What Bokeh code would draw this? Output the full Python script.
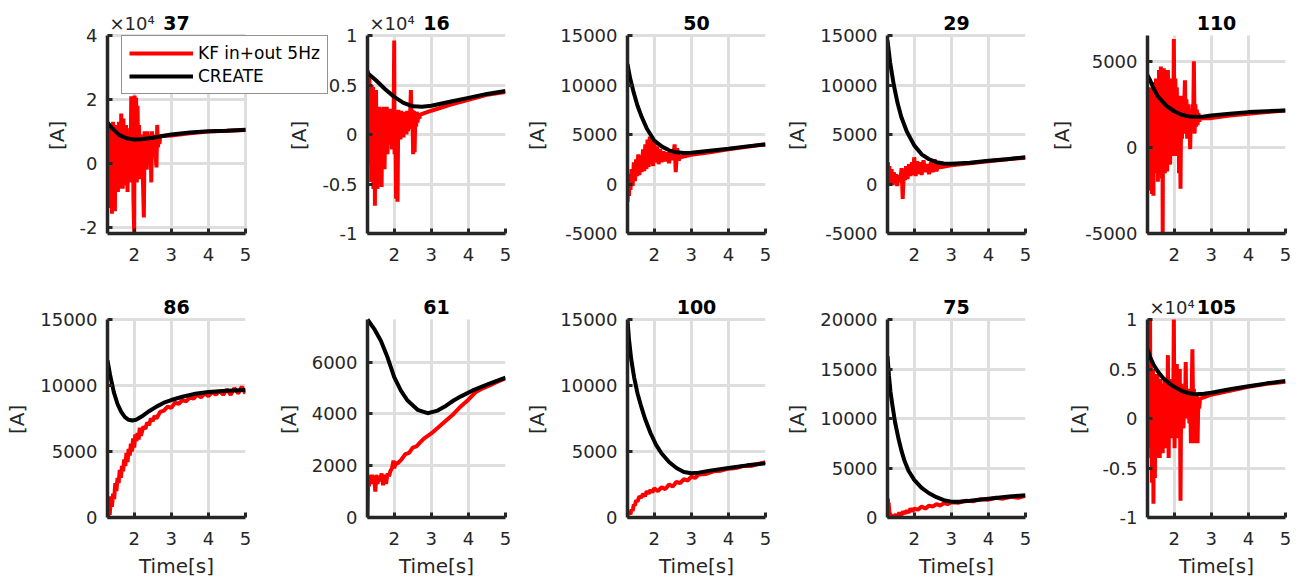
from bokeh.plotting import figure
from bokeh.layouts import row, column
from bokeh.models import Range1d, FixedTicker, Legend, LegendItem, Label
from bokeh.embed import file_html
from bokeh.resources import INLINE

# ---------------- data (time in s, current in A) ----------------
titles = ["37", "16", "50", "29", "110", "86", "61", "100", "75", "105"]
legend_labels = ["KF in+out 5Hz", "CREATE"]
x_ticks = [2, 3, 4, 5]
scale_text = "\u00d710\u2074"
y_label = "[A]"
x_label = "Time[s]"

# panel 37  (KF samples as (time, current) pairs)
t_create_37 = [1.28, 1.4, 1.6, 1.8, 2.0, 2.2, 2.5, 3.0, 3.5, 4.0, 4.5, 5.0]
i_create_37 = [12800, 11000, 8800, 7800, 7400, 7500, 8000, 9000, 9600, 10000, 10200, 10500]
kf_37 = [(1.28, 0), (1.29, 12900), (1.30, -8000), (1.31, 11000), (1.32, -13300), (1.33, 9000), (1.34, -5000),
         (1.35, 12000), (1.36, -14000), (1.37, 8000), (1.38, -3000), (1.39, 10000), (1.40, -15800), (1.41, 6000),
         (1.42, -9000), (1.43, 13000), (1.44, -12000), (1.45, 9000), (1.46, -2000), (1.47, 11000), (1.48, -15000),
         (1.49, 8000), (1.50, 0), (1.51, 10000), (1.52, -7000), (1.53, 12000), (1.54, 2000), (1.55, 9000),
         (1.56, -9000), (1.57, 11000), (1.58, -4000), (1.59, 13000), (1.60, -6000), (1.62, 9000), (1.63, -8000),
         (1.65, 15600), (1.66, -3000), (1.68, 12000), (1.69, -8000), (1.71, 14000), (1.72, 0), (1.74, 10000),
         (1.76, -7000), (1.78, 12000), (1.79, -1000), (1.80, 11000), (1.82, -9000), (1.84, 9000), (1.86, -4000),
         (1.88, 10000), (1.90, -6000), (1.92, 21000), (1.94, -3000), (1.96, 20000), (1.98, -12000), (2.00, -22000),
         (2.01, 21200), (2.03, 2000), (2.05, 20500), (2.07, -6000), (2.09, 18000), (2.11, 0), (2.13, 12000),
         (2.15, -5000), (2.17, 9000), (2.19, 2000), (2.21, 8000), (2.23, -3000), (2.26, -17000), (2.28, 10000),
         (2.30, 3000), (2.32, 9000), (2.34, -2000), (2.36, 10000), (2.38, 4000), (2.40, 9000), (2.42, 2000),
         (2.44, 8000), (2.46, -6000), (2.48, 10000), (2.50, 3000), (2.52, 9000), (2.54, 4000), (2.56, 8000),
         (2.58, 2000), (2.60, -1300), (2.62, 12000), (2.64, 5000), (2.66, 9000), (2.68, 6000), (2.70, 8500),
         (3.0, 8700), (3.5, 9400), (4.0, 9900), (4.5, 10200), (5.0, 10400)]
yticks_37 = [-20000, 0, 20000, 40000]
yticklabels_37 = ["-2", "0", "2", "4"]

# panel 16
t_create_16 = [1.28, 1.5, 1.75, 2.0, 2.25, 2.5, 2.75, 3.0, 3.5, 4.0, 4.5, 5.0]
i_create_16 = [6200, 5500, 4600, 3800, 3200, 2850, 2800, 2900, 3300, 3700, 4100, 4400]
kf_16 = [(1.28, -2000), (1.29, 6500), (1.30, -3000), (1.31, 5500), (1.32, 0), (1.33, 6000), (1.34, -1500),
         (1.35, 4500), (1.36, -2500), (1.37, 3000), (1.38, -4800), (1.39, 5000), (1.40, -1000), (1.41, 4000),
         (1.42, -3000), (1.43, 4800), (1.44, -5500), (1.45, 2500), (1.46, -1000), (1.47, 3500), (1.48, -7200),
         (1.49, 2000), (1.50, -2000), (1.51, 4500), (1.52, -500), (1.53, 2800), (1.55, -5500), (1.56, 2500),
         (1.58, -1000), (1.60, 2800), (1.62, -3000), (1.64, 2600), (1.66, -5300), (1.68, 2700), (1.70, -1500),
         (1.72, 2800), (1.74, -3500), (1.76, 2500), (1.78, 0), (1.80, 2800), (1.82, -2000), (1.84, 2500),
         (1.86, -1000), (1.88, 2600), (1.90, 0), (1.92, 2200), (1.94, -1500), (1.96, 2500), (1.98, -500),
         (2.00, 9500), (2.01, -2000), (2.03, 2500), (2.05, -6500), (2.07, 2000), (2.09, -6800), (2.11, 2500),
         (2.13, 0), (2.15, 2200), (2.17, -500), (2.19, 2400), (2.21, 200), (2.23, 2200), (2.25, -300),
         (2.27, 2300), (2.29, 500), (2.31, 2200), (2.33, 0), (2.35, 2400), (2.37, 300), (2.39, 2000),
         (2.41, 600), (2.43, 2200), (2.45, 4500), (2.47, 500), (2.49, 2500), (2.51, -2000), (2.53, 2400),
         (2.55, -1800), (2.57, 2200), (2.59, 800), (2.61, 2300), (2.63, 1200), (2.65, 2100), (2.68, 1600),
         (2.70, 2000), (3.0, 2400), (3.5, 3000), (4.0, 3500), (4.5, 4000), (5.0, 4300)]
yticks_16 = [-10000, -5000, 0, 5000, 10000]
yticklabels_16 = ["-1", "-0.5", "0", "0.5", "1"]

# panel 50
t_create_50 = [1.28, 1.35, 1.45, 1.55, 1.65, 1.8, 2.0, 2.2, 2.4, 2.6, 2.8, 3.0, 3.5, 4.0, 4.5, 5.0]
i_create_50 = [12100, 10700, 9200, 7900, 6900, 5600, 4400, 3800, 3400, 3200, 3120, 3150, 3350, 3550, 3800, 4000]
t_kf_50 = [1.28, 1.30, 1.32, 1.34, 1.36, 1.39, 1.42, 1.45, 1.48, 1.51, 1.54, 1.57, 1.60, 1.63, 1.66,
           1.70, 1.73, 1.76, 1.79, 1.82, 1.85, 1.88, 1.91, 1.94, 1.97, 2.00, 2.04, 2.08, 2.12, 2.16,
           2.20, 2.25, 2.30, 2.35, 2.40, 2.45, 2.50, 2.55, 2.58, 2.62, 2.66, 2.70, 3.0, 3.5, 4.0, 4.5, 5.0]
i_kf_50 = [-1800, 500, -1200, 1000, -600, 1500, -200, 2200, 300, 2500, 800, 3000, 900, 2900, 1200,
           3500, 1300, 4000, 1500, 4500, 1700, 4800, 2000, 4600, 1800, 4500, 2200, 3800, 2000, 3500,
           2200, 3300, 2300, 3200, 2100, 3400, 2400, 4000, 1200, 3600, 2400, 2700, 2950, 3200, 3500, 3750, 4000]
yticks_50 = [-5000, 0, 5000, 10000, 15000]
yticklabels_50 = ["-5000", "0", "5000", "10000", "15000"]

# panel 29
t_create_29 = [1.28, 1.35, 1.45, 1.55, 1.65, 1.8, 2.0, 2.2, 2.4, 2.6, 2.8, 3.0, 3.5, 4.0, 4.5, 5.0]
i_create_29 = [14500, 12300, 10000, 8200, 6800, 5300, 3900, 3000, 2500, 2200, 2080, 2050, 2150, 2350, 2500, 2700]
t_kf_29 = [1.28, 1.29, 1.31, 1.33, 1.36, 1.39, 1.42, 1.45, 1.48, 1.51, 1.54, 1.58, 1.62, 1.66, 1.69,
           1.72, 1.75, 1.78, 1.82, 1.86, 1.90, 1.94, 1.97, 2.00, 2.04, 2.08, 2.12, 2.16, 2.20, 2.25,
           2.30, 2.35, 2.40, 2.45, 2.50, 2.55, 2.60, 2.65, 2.70, 3.0, 3.5, 4.0, 4.5, 5.0]
i_kf_29 = [0, 2200, 300, 1800, 0, 1500, -100, 1200, 200, 1000, -200, 900, 200, 1600, -1500,
           1200, 400, 1800, 500, 2000, 800, 2200, 900, 2700, 800, 2300, 1000, 2200, 900, 2400,
           1200, 2000, 1000, 2200, 1200, 2500, 1300, 2000, 1700, 1900, 2100, 2300, 2500, 2650]
yticks_29 = [-5000, 0, 5000, 10000, 15000]
yticklabels_29 = ["-5000", "0", "5000", "10000", "15000"]

# panel 110
t_create_110 = [1.28, 1.35, 1.45, 1.55, 1.65, 1.8, 2.0, 2.2, 2.4, 2.6, 2.8, 3.0, 3.5, 4.0, 4.5, 5.0]
i_create_110 = [4200, 3900, 3400, 3000, 2750, 2400, 2100, 1900, 1800, 1780, 1800, 1850, 1950, 2050, 2100, 2150]
kf_110 = [(1.28, -1500), (1.29, 3000), (1.30, -1000), (1.31, 2500), (1.32, -2000), (1.33, 2800), (1.34, -500),
          (1.35, 2000), (1.36, -2500), (1.37, 3500), (1.38, -1000), (1.39, 2500), (1.40, -2700), (1.41, 3000),
          (1.42, -2000), (1.43, 3800), (1.44, -2800), (1.45, 2500), (1.46, -1000), (1.47, 3500), (1.48, -1500),
          (1.49, 3000), (1.50, -500), (1.51, 4000), (1.52, -1500), (1.53, 3500), (1.54, -1000), (1.55, 4000),
          (1.56, -2000), (1.57, 3000), (1.58, -500), (1.59, 4500), (1.60, -1000), (1.62, 4500), (1.63, -1500),
          (1.64, 4700), (1.65, 0), (1.66, 4500), (1.67, -1800), (1.68, 3500), (1.69, -5000), (1.70, 3000),
          (1.71, -1000), (1.72, 4600), (1.73, 500), (1.74, 4500), (1.75, -1500), (1.77, 4300), (1.78, 0),
          (1.80, 4000), (1.81, -1400), (1.83, 4500), (1.85, 0), (1.87, 3500), (1.89, -1000), (1.91, 4000),
          (1.93, 500), (1.95, 3500), (1.97, -500), (1.99, 6300), (2.01, 0), (2.03, 4000), (2.05, -500),
          (2.07, 3500), (2.09, 0), (2.11, 3000), (2.13, -1500), (2.15, 2500), (2.17, -2400), (2.19, 3000),
          (2.21, 500), (2.23, 2500), (2.25, 800), (2.27, 2500), (2.29, 3900), (2.31, 1000), (2.33, 2800),
          (2.35, 500), (2.37, 2500), (2.39, 1200), (2.41, 2200), (2.43, -100), (2.45, 2000), (2.47, 1000),
          (2.49, 2500), (2.51, 1200), (2.53, 5000), (2.55, 800), (2.57, 2500), (2.59, 1200), (2.61, 2200),
          (2.63, 1300), (2.65, 2000), (2.68, 1500), (2.70, 1700), (3.0, 1700), (3.5, 1850), (4.0, 1950),
          (4.5, 2050), (5.0, 2150)]
yticks_110 = [-5000, 0, 5000]
yticklabels_110 = ["-5000", "0", "5000"]

# panel 86
t_create_86 = [1.28, 1.35, 1.45, 1.55, 1.65, 1.75, 1.85, 1.95, 2.05, 2.2, 2.4, 2.6, 2.8, 3.0, 3.3, 3.6, 4.0, 4.5, 5.0]
i_create_86 = [11900, 10800, 9500, 8600, 8000, 7600, 7400, 7350, 7400, 7650, 8050, 8400, 8700, 8900, 9150, 9350, 9500, 9600, 9650]
t_kf_86 = [1.28, 1.30, 1.32, 1.34, 1.37, 1.40, 1.43, 1.46, 1.49, 1.52, 1.55, 1.58, 1.61, 1.64, 1.67,
           1.70, 1.73, 1.76, 1.79, 1.82, 1.85, 1.88, 1.91, 1.94, 1.97, 2.00, 2.03, 2.06, 2.09, 2.12,
           2.15, 2.18, 2.21, 2.25, 2.30, 2.35, 2.40, 2.45, 2.50, 2.55, 2.60, 2.70, 2.80, 2.90, 3.0,
           3.1, 3.2, 3.3, 3.4, 3.5, 3.6, 3.7, 3.8, 3.9, 4.0, 4.1, 4.2, 4.3, 4.4, 4.5, 4.6, 4.7, 4.8, 4.9, 5.0]
i_kf_86 = [1500, 0, 1200, 200, 1600, 800, 1800, 1400, 2600, 2000, 3000, 2600, 3600, 3000, 3900,
           3500, 4400, 3900, 4900, 4200, 5200, 4700, 5600, 5000, 6000, 5300, 6300, 5800, 6400, 5900,
           6800, 6200, 6500, 6900, 6700, 7200, 7000, 7500, 7300, 7700, 7500, 8000, 8100, 8400, 8300,
           8700, 8600, 8900, 8800, 9100, 9000, 9300, 9100, 9400, 9200, 9500, 9300, 9600, 9300, 9700, 9300, 9800, 9400, 9900, 9400]
yticks_86 = [0, 5000, 10000, 15000]
yticklabels_86 = ["0", "5000", "10000", "15000"]

# panel 61
t_create_61 = [1.28, 1.46, 1.64, 1.82, 2.0, 2.18, 2.36, 2.63, 2.9, 3.17, 3.4, 3.6, 3.8, 4.1, 4.55, 5.0]
i_create_61 = [7650, 7290, 6830, 6190, 5420, 4900, 4520, 4160, 4030, 4130, 4320, 4520, 4680, 4900, 5160, 5400]
t_kf_61 = [1.28, 1.29, 1.30, 1.32, 1.34, 1.37, 1.40, 1.43, 1.46, 1.49, 1.52, 1.55, 1.58, 1.62, 1.66,
           1.70, 1.74, 1.78, 1.82, 1.86, 1.90, 1.94, 1.98, 2.00, 2.04, 2.10, 2.2, 2.3, 2.4, 2.5,
           2.6, 2.7, 2.8, 3.0, 3.2, 3.4, 3.6, 3.8, 4.0, 4.2, 4.4, 4.6, 4.8, 5.0]
i_kf_61 = [0, 900, 1500, 1200, 1650, 1400, 1650, 1300, 1600, 1000, 1650, 1300, 1600, 1400, 1700,
           1250, 1650, 1300, 1700, 1600, 1800, 1900, 2200, 1900, 2100, 2100, 2250, 2450, 2500, 2700,
           2750, 2900, 3050, 3250, 3500, 3750, 4000, 4300, 4550, 4850, 5000, 5120, 5260, 5380]
yticks_61 = [0, 2000, 4000, 6000]
yticklabels_61 = ["0", "2000", "4000", "6000"]

# panel 100
t_create_100 = [1.28, 1.32, 1.38, 1.46, 1.55, 1.64, 1.75, 1.9, 2.05, 2.2, 2.4, 2.6, 2.8, 3.0, 3.2, 3.5, 4.0, 4.5, 5.0]
i_create_100 = [15000, 13500, 12000, 10600, 9400, 8500, 7500, 6400, 5500, 4850, 4200, 3750, 3450, 3350, 3400, 3550, 3750, 3950, 4100]
t_kf_100 = [1.28, 1.30, 1.33, 1.36, 1.39, 1.42, 1.45, 1.48, 1.51, 1.55, 1.60, 1.65, 1.70, 1.75, 1.80,
            1.85, 1.90, 1.95, 2.0, 2.1, 2.2, 2.3, 2.4, 2.5, 2.6, 2.7, 2.8, 2.9, 3.0, 3.1,
            3.2, 3.4, 3.6, 3.8, 4.0, 4.2, 4.4, 4.6, 4.8, 5.0]
i_kf_100 = [500, 200, 400, 250, 600, 500, 1000, 900, 1300, 1200, 1600, 1500, 1800, 1600, 2000,
            1800, 2100, 1900, 2200, 2000, 2300, 2150, 2500, 2350, 2700, 2600, 2900, 2800, 3100, 3000,
            3250, 3300, 3500, 3550, 3700, 3750, 3900, 3900, 4050, 4200]
yticks_100 = [0, 5000, 10000, 15000]
yticklabels_100 = ["0", "5000", "10000", "15000"]

# panel 75
t_create_75 = [1.28, 1.32, 1.36, 1.41, 1.48, 1.58, 1.66, 1.74, 1.85, 2.0, 2.2, 2.4, 2.6, 2.8, 3.0, 3.2, 3.5, 4.0, 4.5, 5.0]
i_create_75 = [16300, 14300, 12700, 11400, 9700, 7900, 6700, 5700, 4700, 3800, 3000, 2450, 2050, 1750, 1600, 1600, 1700, 1900, 2100, 2250]
t_kf_75 = [1.28, 1.29, 1.30, 1.31, 1.33, 1.36, 1.40, 1.45, 1.50, 1.55, 1.60, 1.65, 1.70, 1.75, 1.80,
           1.85, 1.90, 1.95, 2.0, 2.1, 2.2, 2.3, 2.4, 2.5, 2.6, 2.7, 2.8, 2.9, 3.0, 3.2,
           3.4, 3.6, 3.8, 4.0, 4.2, 4.4, 4.6, 4.8, 5.0]
i_kf_75 = [600, 1900, 900, 1500, 500, 300, 100, 50, 300, 0, 500, 200, 600, 400, 700,
           500, 900, 600, 900, 800, 1100, 900, 1200, 1100, 1350, 1200, 1450, 1350, 1550, 1500,
           1700, 1650, 1850, 1800, 2000, 1900, 2100, 2000, 2200]
yticks_75 = [0, 5000, 10000, 15000, 20000]
yticklabels_75 = ["0", "5000", "10000", "15000", "20000"]

# panel 105
t_create_105 = [1.28, 1.35, 1.45, 1.55, 1.7, 1.85, 2.0, 2.2, 2.4, 2.6, 2.8, 3.0, 3.5, 4.0, 4.5, 5.0]
i_create_105 = [7000, 6200, 5400, 4800, 4100, 3600, 3200, 2800, 2550, 2450, 2500, 2600, 2950, 3250, 3550, 3800]
kf_105 = [(1.28, 0), (1.29, 10000), (1.30, -2000), (1.31, 10000), (1.32, -1000), (1.33, 8000), (1.34, -3000),
          (1.35, 10000), (1.36, -2000), (1.37, 6000), (1.38, -4000), (1.39, 5000), (1.40, -6500), (1.41, 4000),
          (1.42, -3000), (1.43, 5000), (1.44, -8600), (1.45, 3000), (1.46, -5000), (1.47, 4500), (1.48, -6000),
          (1.49, 3000), (1.50, -2000), (1.51, 4000), (1.52, -4000), (1.53, 3500), (1.54, -1000), (1.55, 4500),
          (1.57, -3000), (1.59, 3000), (1.61, -4000), (1.63, 4000), (1.65, -2000), (1.67, 3500), (1.69, -3500),
          (1.71, 3000), (1.73, -1000), (1.75, 4000), (1.77, -3000), (1.79, 3500), (1.81, -2000), (1.83, 6400),
          (1.85, -4000), (1.87, 3000), (1.89, -1500), (1.91, 4000), (1.93, -2000), (1.95, 3500), (1.97, -500),
          (1.99, 10000), (2.01, -3000), (2.03, 4000), (2.05, -1000), (2.07, 5500), (2.09, -2000), (2.11, 3000),
          (2.13, -1000), (2.15, 5000), (2.17, -8300), (2.19, 3500), (2.21, 0), (2.23, 3000), (2.25, -1000),
          (2.27, 2500), (2.29, 500), (2.31, 5700), (2.33, 0), (2.35, 3000), (2.37, 1000), (2.39, 2500),
          (2.41, -500), (2.43, 3000), (2.45, -2500), (2.47, 2500), (2.49, 7000), (2.51, 1000), (2.53, 3000),
          (2.55, -2500), (2.57, 2500), (2.59, -2000), (2.61, 2500), (2.63, -2500), (2.65, 2000), (2.67, 1000),
          (2.70, 2000), (3.0, 2400), (3.5, 2800), (4.0, 3200), (4.5, 3500), (5.0, 3700)]
yticks_105 = [-10000, -5000, 0, 5000, 10000]
yticklabels_105 = ["-1", "-0.5", "0", "0.5", "1"]

# axis limits per panel
x_limits = (1.28, 5.0)
y_limits = [(-22000, 40000), (-10000, 10000), (-5000, 15000), (-5000, 15000), (-5000, 6500),
            (0, 15000), (0, 7650), (0, 15000), (0, 20000), (-10000, 10000)]
scaled_panels = ["37", "16", "105"]


def unzip(pairs):
    return [a for a, _ in pairs], [b for _, b in pairs]


t_kf_37, i_kf_37 = unzip(kf_37)
t_kf_16, i_kf_16 = unzip(kf_16)
t_kf_110, i_kf_110 = unzip(kf_110)
t_kf_105, i_kf_105 = unzip(kf_105)

panel_data = [
    (t_kf_37, i_kf_37, t_create_37, i_create_37, yticks_37, yticklabels_37),
    (t_kf_16, i_kf_16, t_create_16, i_create_16, yticks_16, yticklabels_16),
    (t_kf_50, i_kf_50, t_create_50, i_create_50, yticks_50, yticklabels_50),
    (t_kf_29, i_kf_29, t_create_29, i_create_29, yticks_29, yticklabels_29),
    (t_kf_110, i_kf_110, t_create_110, i_create_110, yticks_110, yticklabels_110),
    (t_kf_86, i_kf_86, t_create_86, i_create_86, yticks_86, yticklabels_86),
    (t_kf_61, i_kf_61, t_create_61, i_create_61, yticks_61, yticklabels_61),
    (t_kf_100, i_kf_100, t_create_100, i_create_100, yticks_100, yticklabels_100),
    (t_kf_75, i_kf_75, t_create_75, i_create_75, yticks_75, yticklabels_75),
    (t_kf_105, i_kf_105, t_create_105, i_create_105, yticks_105, yticklabels_105),
]

# ---------------- styling / geometry ----------------
FONT = "DejaVu Sans"
AX = "#262626"
GRID = "#dedede"
RED = "#ff0000"
AXES_W = 138        # width of the visible axes box (px)
AXES_H = 198        # height of the visible axes box (px)
LEFT = 107
EXT_TOP = 30        # plotting frame reaches this far above the axes box, so titles sit inside it
P1_EXT_RIGHT = 85   # first frame reaches into the gap so the legend fits inside it
P1_W = LEFT + AXES_W + P1_EXT_RIGHT + 15
NBSP = "\u00a0"


def make_panel(k):
    t_kf, i_kf, t_cr, i_cr, yt, ytl = panel_data[k]
    top_row = k < 5
    width = P1_W if k == 0 else 260
    ext_right = P1_EXT_RIGHT if k == 0 else 0
    top = (35 if top_row else 38) - EXT_TOP
    bottom = 48 if top_row else 67
    frame_h = AXES_H + EXT_TOP
    y0, y1 = y_limits[k]
    x0, x1 = x_limits
    y_top = y1 + EXT_TOP * (y1 - y0) / AXES_H
    x_right = x1 + ext_right * (x1 - x0) / AXES_W

    p = figure(width=width, height=top + frame_h + bottom, output_backend="svg", toolbar_location=None,
               title_location=None,
               x_range=Range1d(x0, x_right), y_range=Range1d(y0, y_top),
               min_border_left=LEFT, min_border_right=width - LEFT - AXES_W - ext_right,
               min_border_top=top, min_border_bottom=bottom)
    p.outline_line_color = None
    p.border_fill_color = None
    p.background_fill_color = None

    p.xaxis.ticker = FixedTicker(ticks=x_ticks)
    p.yaxis.ticker = FixedTicker(ticks=yt)
    p.xgrid.ticker = FixedTicker(ticks=x_ticks)
    p.ygrid.ticker = FixedTicker(ticks=yt)
    p.yaxis.major_label_overrides = {v: s for v, s in zip(yt, ytl)}
    p.xaxis.bounds = (x0, x1)
    p.yaxis.bounds = (y0, y1)
    p.xgrid.cross_bounds = (y0, y1)
    p.ygrid.cross_bounds = (x0, x1)

    for ax in (p.xaxis[0], p.yaxis[0]):
        ax.axis_line_color = AX
        ax.axis_line_width = 3.5
        ax.major_tick_line_color = AX
        ax.major_tick_line_width = 3
        ax.major_tick_in = 5
        ax.major_tick_out = 0
        ax.minor_tick_line_color = None
        ax.major_label_text_font = FONT
        ax.major_label_text_font_size = "18px"
        ax.major_label_text_color = AX
        ax.axis_label_text_font = FONT
        ax.axis_label_text_font_size = "20px"
        ax.axis_label_text_font_style = "normal"
        ax.axis_label_text_color = AX
    p.xaxis.major_label_standoff = 14
    p.yaxis.major_label_standoff = 10
    # the frame reaches EXT_TOP px above the axes box; pad the rotated label so the
    # visible "[A]" stays centred on the axes box itself
    p.yaxis.axis_label = y_label + NBSP * 5
    p.yaxis.axis_label_standoff = 8
    if not top_row:
        p.xaxis.axis_label = x_label
        p.xaxis.axis_label_standoff = 6

    for g in (p.xgrid[0], p.ygrid[0]):
        g.grid_line_color = GRID
        g.grid_line_width = 3

    r_kf = p.line(t_kf, i_kf, line_color=RED, line_width=4)
    r_cr = p.line(t_cr, i_cr, line_color="black", line_width=4)

    # panel title, centred over the axes box
    p.add_layout(Label(x=(x0 + x1) / 2, y=y1, text=titles[k], y_offset=13,
                       text_align="center", text_baseline="alphabetic",
                       text_font=FONT, text_font_style="bold", text_font_size="19px",
                       text_color="black"))
    if titles[k] in scaled_panels:
        p.add_layout(Label(x=x0, y=y1, text=scale_text, x_offset=2, y_offset=12,
                           text_align="left", text_baseline="alphabetic",
                           text_font=FONT, text_font_size="18px", text_color=AX))

    if k == 0:
        leg = Legend(items=[LegendItem(label=legend_labels[0], renderers=[r_kf]),
                            LegendItem(label=legend_labels[1], renderers=[r_cr])],
                     location=(14, 139))
        leg.label_text_font = FONT
        leg.label_text_font_size = "17px"
        leg.label_text_color = "black"
        leg.border_line_color = AX
        leg.border_line_width = 1.5
        leg.background_fill_color = "white"
        leg.background_fill_alpha = 1.0
        leg.glyph_width = 64
        leg.glyph_height = 20
        leg.label_height = 20
        leg.label_standoff = 5
        leg.padding = 7
        leg.spacing = 3
        leg.margin = 0
        p.add_layout(leg, "center")
    return p


panels = [make_panel(k) for k in range(10)]
panels[1].margin = (0, 0, 0, 260 - P1_W)

layout = column(row(*panels[:5]), row(*panels[5:]))

open("out.html", "w").write(file_html(layout, INLINE))
